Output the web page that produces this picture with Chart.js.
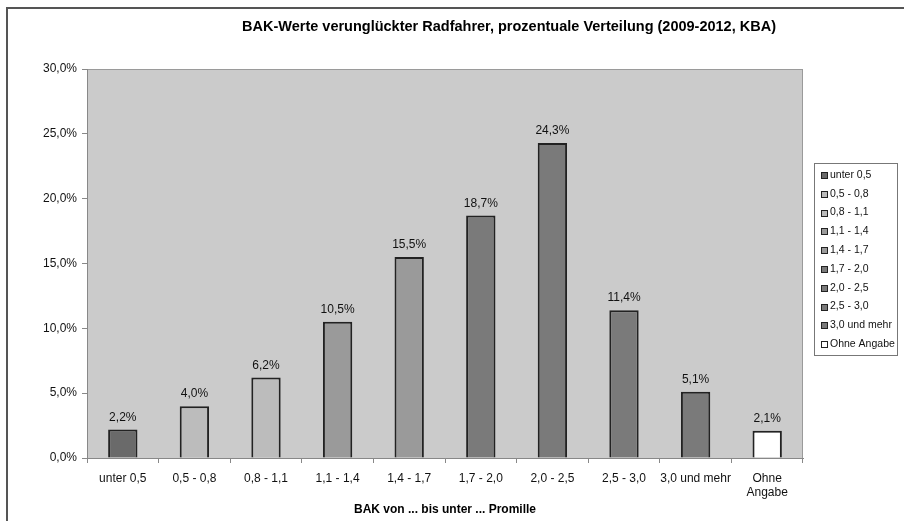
<!DOCTYPE html>
<html>
<head>
<meta charset="utf-8">
<script src="https://cdn.jsdelivr.net/npm/chart.js@4/dist/chart.umd.min.js"></script>
<style>
  html, body { margin: 0; padding: 0; background: #fff; }
  canvas { display: block; }
</style>
</head>
<body>
<canvas id="bakChart" width="904" height="521"></canvas>
<script>
// BAK-Werte verunglückter Radfahrer (2009-2012, KBA)
const categories = ['unter 0,5', '0,5 - 0,8', '0,8 - 1,1', '1,1 - 1,4', '1,4 - 1,7',
  '1,7 - 2,0', '2,0 - 2,5', '2,5 - 3,0', '3,0 und mehr', 'Ohne Angabe'];
const shares = [2.2, 4.0, 6.2, 10.5, 15.5, 18.7, 24.3, 11.4, 5.1, 2.1];
const barColors = ['#6a6a6a', '#bcbcbc', '#bcbcbc', '#9a9a9a', '#9a9a9a',
  '#7a7a7a', '#7a7a7a', '#7a7a7a', '#7a7a7a', '#ffffff'];
const yTicks = [0, 5, 10, 15, 20, 25, 30];

const FONT = "'Liberation Sans', Arial, sans-serif";
Chart.defaults.font.family = FONT;

const pct = v => v.toFixed(1).replace('.', ',') + '%';

// Rahmen, Hintergrund der Zeichenfläche, Titel
const frame = {
  id: 'frame',
  beforeDraw(chart) {
    const { ctx, chartArea: a } = chart;
    ctx.save();
    ctx.fillStyle = '#cbcbcb';
    ctx.fillRect(a.left, a.top, a.right - a.left, a.bottom - a.top);
    ctx.strokeStyle = '#9a9a9a';
    ctx.lineWidth = 1;
    ctx.strokeRect(a.left + 0.5, a.top + 0.5, a.right - a.left - 1, a.bottom - a.top);
    // äußerer Rahmen
    ctx.strokeStyle = '#555';
    ctx.lineWidth = 2;
    ctx.beginPath();
    ctx.moveTo(7, 521);
    ctx.lineTo(7, 8);
    ctx.lineTo(904, 8);
    ctx.stroke();
    ctx.fillStyle = '#000';
    ctx.font = 'bold 14.5px ' + FONT;
    ctx.textAlign = 'center';
    ctx.textBaseline = 'middle';
    ctx.fillText('BAK-Werte verunglückter Radfahrer, prozentuale Verteilung (2009-2012, KBA)', 509, 27);
    ctx.restore();
  }
};

// Werte über den Balken
const valueLabels = {
  id: 'valueLabels',
  afterDatasetsDraw(chart) {
    const { ctx } = chart;
    const meta = chart.getDatasetMeta(0);
    ctx.save();
    ctx.fillStyle = '#111';
    ctx.font = '12px ' + FONT;
    ctx.textAlign = 'center';
    ctx.textBaseline = 'middle';
    meta.data.forEach((bar, i) => {
      ctx.fillText(pct(shares[i]), bar.x, bar.y - 12);
    });
    ctx.restore();
  }
};

// Legende rechts im Kasten
const boxLegend = {
  id: 'boxLegend',
  afterDraw(chart) {
    const { ctx } = chart;
    ctx.save();
    ctx.fillStyle = '#fff';
    ctx.fillRect(814, 163, 83, 192);
    ctx.strokeStyle = '#777';
    ctx.lineWidth = 1;
    ctx.strokeRect(814.5, 163.5, 83, 192);
    ctx.font = '10.5px ' + FONT;
    ctx.textBaseline = 'middle';
    categories.forEach((c, i) => {
      const y = 175 + i * 18.8;
      ctx.fillStyle = barColors[i];
      ctx.fillRect(821, Math.round(y) - 3, 7, 7);
      ctx.strokeStyle = '#222';
      ctx.strokeRect(821.5, Math.round(y) - 2.5, 6, 6);
      ctx.fillStyle = '#111';
      ctx.fillText(c, 830, y);
    });
    ctx.restore();
  }
};

new Chart(document.getElementById('bakChart'), {
  type: 'bar',
  data: {
    labels: categories.map(c => c === 'Ohne Angabe' ? ['Ohne', 'Angabe'] : c),
    datasets: [{
      data: shares,
      backgroundColor: barColors,
      borderColor: '#222',
      borderWidth: 2,
      categoryPercentage: 1,
      barPercentage: 0.41,
    }],
  },
  options: {
    responsive: false,
    animation: false,
    layout: { padding: { top: 69, right: 101, bottom: 0, left: 0 } },
    plugins: { legend: { display: false }, tooltip: { enabled: false } },
    scales: {
      x: {
        afterFit: s => { s.height = 63; },
        grid: { offset: true, drawOnChartArea: false, tickLength: 5, color: '#888' },
        border: { color: '#888' },
        ticks: { color: '#111', font: { size: 12 }, padding: 8, maxRotation: 0, autoSkip: false },
        title: {
          display: true,
          text: 'BAK von ... bis unter ... Promille',
          color: '#000',
          font: { size: 12, weight: 'bold' },
        },
      },
      y: {
        min: 0,
        max: 30,
        afterFit: s => { s.width = 87; },
        afterBuildTicks: s => { s.ticks = yTicks.map(v => ({ value: v })); },
        grid: { drawOnChartArea: false, tickLength: 5, color: '#888' },
        border: { color: '#888' },
        ticks: { color: '#111', font: { size: 12 }, padding: 5, callback: v => pct(v) },
      },
    },
  },
  plugins: [frame, valueLabels, boxLegend],
});
</script>
</body>
</html>
